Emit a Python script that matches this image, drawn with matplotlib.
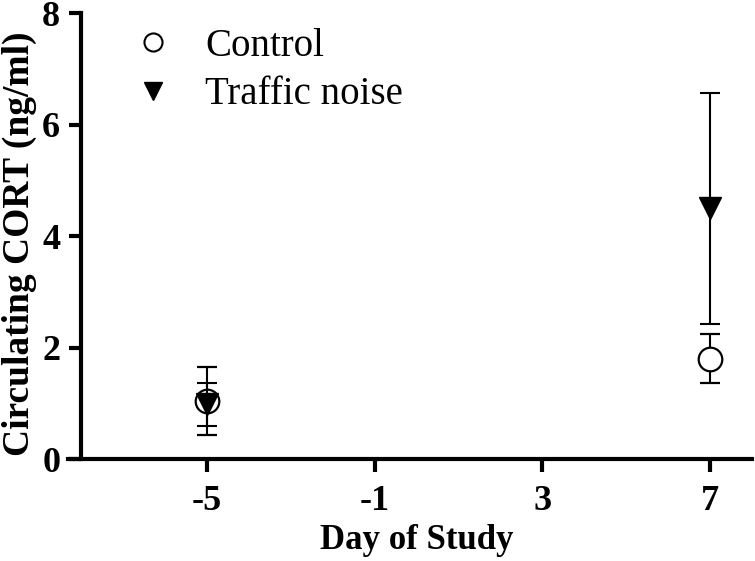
import matplotlib
matplotlib.use("Agg")
import matplotlib.pyplot as plt
from matplotlib.lines import Line2D

plt.rcParams["font.family"] = "Liberation Serif"
plt.rcParams["axes.unicode_minus"] = False

days = [-5, 7]
control_mean = [1.05, 1.80]
control_sem = [0.61, 0.44]
traffic_mean = [0.98, 4.50]
traffic_sem = [0.39, 2.07]

fig = plt.figure(figsize=(7.55, 5.61), dpi=100)
ax = fig.add_axes([0.1073, 0.1818, 0.8887, 0.7942])

ax.errorbar(days, control_mean, yerr=control_sem, fmt="o", color="black",
            mfc="white", mec="black", ms=17, mew=1.6, elinewidth=1.5,
            capsize=7.5, capthick=1.5, zorder=2)
ax.errorbar(days, traffic_mean, yerr=traffic_sem, fmt="v", color="black",
            ms=16, elinewidth=1.5, capsize=7.5, capthick=1.5, zorder=3)

ax.set_xlim(-8, 8)
ax.set_ylim(0, 8)
ax.set_xticks([-5, -1, 3, 7])
ax.set_yticks([0, 2, 4, 6, 8])
ax.spines["top"].set_visible(False)
ax.spines["right"].set_visible(False)
for s in ["left", "bottom"]:
    ax.spines[s].set_linewidth(3)
ax.spines["bottom"].set_bounds(-8.3, 8)
ax.tick_params(width=3, length=9, labelsize=26, pad=6)
ax.tick_params(axis="x", pad=10)
for t in ax.get_xticklabels() + ax.get_yticklabels():
    t.set_fontweight("bold")

ax.set_xlabel("Day of Study", fontsize=25, fontweight="bold", labelpad=4)
ax.set_ylabel("Circulating CORT (ng/ml)", fontsize=27, fontweight="bold")
ax.yaxis.set_label_coords(-0.066, 0.484)

handles = [Line2D([], [], ls="none", marker="o", mfc="white", mec="black", ms=13, mew=1.5),
           Line2D([], [], ls="none", marker="v", color="black", ms=13)]
ax.legend(handles, ["Control", "Traffic noise"], loc="upper left",
          bbox_to_anchor=(0.011, 1.047), frameon=False, fontsize=28,
          handletextpad=0.6, labelspacing=0.3, handlelength=1.5)

fig.savefig("out.png", dpi=100)
